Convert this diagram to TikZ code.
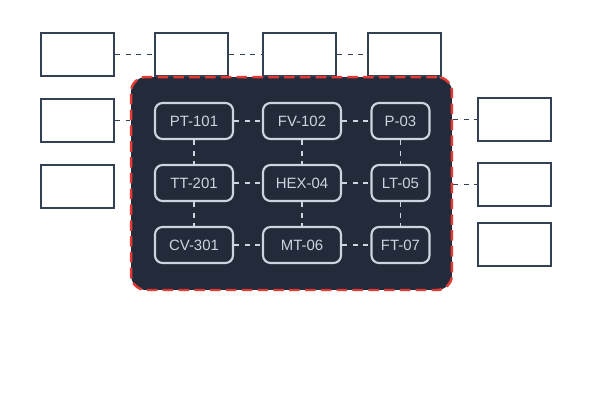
\documentclass[tikz,border=0pt]{standalone}
\usepackage{fontspec}
\setmainfont{Liberation Sans}
\usetikzlibrary{positioning}
\definecolor{slate}{HTML}{334155}
\definecolor{panelbg}{HTML}{232B3A}
\definecolor{edge}{HTML}{CBD5E1}
\definecolor{alarm}{HTML}{E53935}
\begin{document}
\begin{tikzpicture}[
    x=0.02cm, y=-0.02cm,
    % Styles
    frame/.style={
        rectangle,
        fill=white,
        draw=slate,
        line width=1.3pt,
        minimum width=1.46cm,
        minimum height=0.86cm
    },
    tag/.style={
        rectangle,
        rounded corners=1.5mm,
        fill=panelbg,
        draw=edge,
        line width=1.2pt,
        minimum width=1.56cm,
        minimum height=0.72cm,
        text=edge,
        font=\fontsize{8.5}{10}\selectfont
    },
    link/.style={
        dashed,
        line width=1.1pt,
        draw=slate
    },
    wire/.style={
        dashed,
        line width=1.1pt,
        draw=edge
    }
]
    \useasboundingbox (0,0) rectangle (600,420);

    % Outer frames
    \node[frame] (top1) at (77.5,54.5) {};
    \node[frame] (top2) at (191.5,54.5) {};
    \node[frame] (top3) at (299.5,54.5) {};
    \node[frame] (top4) at (404.5,54.5) {};
    \node[frame] (left1) at (77.5,120.5) {};
    \node[frame] (left2) at (77.5,186.5) {};
    \node[frame] (right1) at (514.5,119.5) {};
    \node[frame] (right2) at (514.5,184.5) {};
    \node[frame] (right3) at (514.5,244.5) {};

    \draw[link] (top1) -- (top2);
    \draw[link] (top2) -- (top3);
    \draw[link] (top3) -- (top4);

    % Panel
    \node[rectangle, rounded corners=3mm, fill=panelbg, draw=alarm,
          line width=1.4pt, dash pattern=on 6pt off 3pt,
          minimum width=6.42cm, minimum height=4.26cm] (panel) at (291.5,183.5) {};
    \draw[link] (left1.east) -- (left1.east -| panel.west);
    \draw[link] (right1.west -| panel.east) -- (right1.west);
    \draw[link] (right2.west -| panel.east) -- (right2.west);

    % Tags
    \node[tag] (pt) at (194,121) {PT-101};
    \node[tag] (fv) at (302,121) {FV-102};
    \node[tag, minimum width=1.16cm] (p) at (400.5,121) {P-03};
    \node[tag] (tt) at (194,183) {TT-201};
    \node[tag] (hex) at (302,183) {HEX-04};
    \node[tag, minimum width=1.16cm] (lt) at (400.5,183) {LT-05};
    \node[tag] (cv) at (194,245) {CV-301};
    \node[tag] (mt) at (302,245) {MT-06};
    \node[tag, minimum width=1.16cm] (ft) at (400.5,245) {FT-07};

    % Wires
    \draw[wire] (pt) -- (fv);
    \draw[wire] (fv) -- (p);
    \draw[wire] (tt) -- (hex);
    \draw[wire] (hex) -- (lt);
    \draw[wire] (cv) -- (mt);
    \draw[wire] (mt) -- (ft);
    \draw[wire] (pt) -- (tt);
    \draw[wire] (tt) -- (cv);
    \draw[wire] (fv) -- (hex);
    \draw[wire] (hex) -- (mt);
    \draw[wire] (p) -- (lt);
    \draw[wire] (lt) -- (ft);
\end{tikzpicture}
\end{document}
